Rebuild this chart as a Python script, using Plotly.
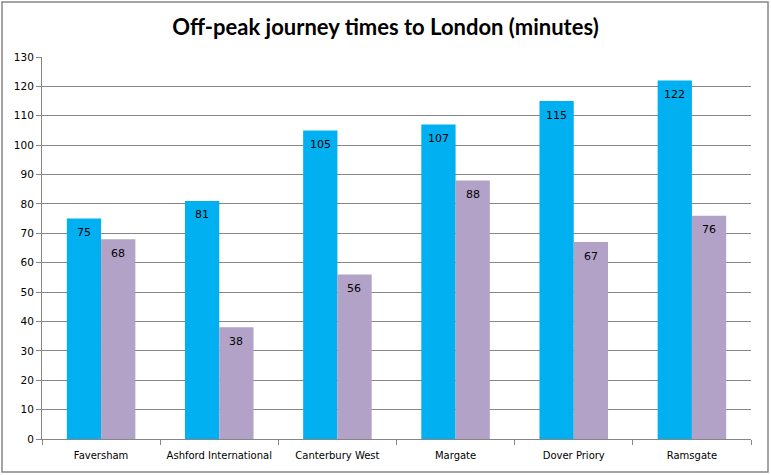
import plotly.graph_objects as go

categories = ["Faversham", "Ashford International", "Canterbury West", "Margate", "Dover Priory", "Ramsgate"]
series_a = [75, 81, 105, 107, 115, 122]
series_b = [68, 38, 56, 88, 67, 76]
y_ticks = list(range(0, 131, 10))

W, H = 771, 475
L, R, T, B = 42, 20, 57, 36
pw, ph = W - L - R, H - T - B

fig = go.Figure()
fig.add_trace(go.Bar(x=categories, y=series_a, marker=dict(color="#00B0F0", line=dict(width=0)), name="A"))
fig.add_trace(go.Bar(x=categories, y=series_b, marker=dict(color="#B3A2C7", line=dict(width=0)), name="B"))

bar_px = 34
for i, c in enumerate(categories):
    for v, sh in ((series_a[i], -bar_px / 2), (series_b[i], bar_px / 2)):
        fig.add_annotation(x=c, y=v, xref="x", yref="y", text=str(v), showarrow=False,
                           xshift=sh, yshift=-14, font=dict(family="DejaVu Sans", size=11, color="#000000"))

fig.add_shape(type="rect", xref="paper", yref="paper",
              x0=(2 - L) / pw, x1=(W - 3 - L) / pw,
              y0=-(H - 3 - T - ph) / ph, y1=1 + (T - 2) / ph,
              line=dict(color="#868686", width=1.5), fillcolor="rgba(0,0,0,0)")

fig.update_layout(
    width=W, height=H, margin=dict(l=L, r=R, t=T, b=B, autoexpand=False),
    paper_bgcolor="white", plot_bgcolor="white", showlegend=False,
    barmode="group", bargap=0.42, bargroupgap=0,
    title=dict(text="<b>Off-peak journey times to London (minutes)</b>", x=0.5, xanchor="center",
               y=1 - 27 / H, yanchor="middle",
               font=dict(family="Lato", size=22, color="#000000")),
    font=dict(family="DejaVu Sans", size=10, color="#000000"),
)
fig.update_xaxes(type="category", showline=True, linecolor="#868686", linewidth=1,
                 ticks="outside", tickson="boundaries", ticklen=5, tickcolor="#868686",
                 ticklabelstandoff=7, tickangle=0, automargin=False,
                 showgrid=False, tickfont=dict(family="DejaVu Sans", size=10, color="#000000"))
fig.update_yaxes(range=[0, 130], tickvals=y_ticks, showline=True, linecolor="#868686", linewidth=1,
                 ticks="outside", ticklen=5, tickcolor="#868686", automargin=False,
                 showgrid=True, gridcolor="#868686", gridwidth=1, zeroline=False,
                 tickfont=dict(family="DejaVu Sans", size=10.5, color="#000000"))

fig.write_html("out.html")
